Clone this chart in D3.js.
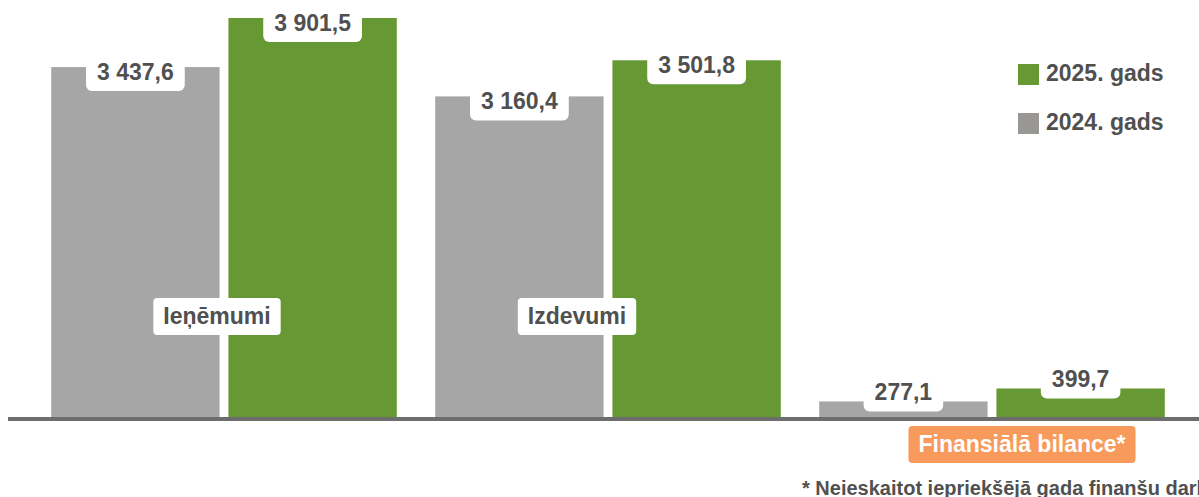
<!DOCTYPE html>
<html>
<head>
  <meta charset="utf-8">
  <title>Ieņēmumi un izdevumi</title>
  <script src="https://d3js.org/d3.v7.min.js"></script>
  <style>
    body { margin: 0; background: #fff; }
    text { font-family: "Liberation Sans", Arial, sans-serif; font-weight: bold; }
  </style>
</head>
<body>
<script>
// data (milj. EUR)
var categories = ["Ieņēmumi", "Izdevumi", "Finansiālā bilance*"];
var years = ["2024. gads", "2025. gads"];
var values2024 = [3437.6, 3160.4, 277.1];
var values2025 = [3901.5, 3501.8, 399.7];
var valueLabels2024 = ["3 437,6", "3 160,4", "277,1"];
var valueLabels2025 = ["3 901,5", "3 501,8", "399,7"];
var footnote = "* Neieskaitot iepriekšējā gada finanšu darbības rezultātu";

var W = 1199, H = 497;
var baseY = 417;
var colors = {"2024. gads": "#a6a6a6", "2025. gads": "#669933"};
var legendColors = {"2024. gads": "#999794", "2025. gads": "#669933"};
var textColor = "#505050";
// nudges for the category labels relative to the group centre
var catLabelDx = [-7, -31, 30];

var svg = d3.select("body").append("svg")
    .attr("width", W)
    .attr("height", H);

var x0 = d3.scaleBand()
    .domain(categories)
    .range([32, 1184])
    .paddingInner(0.1)
    .paddingOuter(0.05);

var x1 = d3.scaleBand()
    .domain(years)
    .range([0, x0.bandwidth()])
    .paddingInner(0.05);

var y = d3.scaleLinear()
    .domain([130, 3901.5])
    .range([baseY, 18]);

var rows = [];
categories.forEach(function (c, i) {
  rows.push({cat: c, year: years[0], v: values2024[i], label: valueLabels2024[i]});
  rows.push({cat: c, year: years[1], v: values2025[i], label: valueLabels2025[i]});
});

svg.selectAll("rect.bar")
    .data(rows)
    .enter()
    .append("rect")
    .attr("class", "bar")
    .attr("x", function (d) { return x0(d.cat) + x1(d.year); })
    .attr("y", function (d) { return y(d.v); })
    .attr("width", x1.bandwidth())
    .attr("height", function (d) { return baseY - y(d.v); })
    .style("fill", function (d) { return colors[d.year]; });

// axis line
svg.append("rect")
    .attr("x", 8)
    .attr("y", baseY)
    .attr("width", W - 8)
    .attr("height", 4)
    .style("fill", "#6d6d6d");

// value labels in white tabs
var vl = svg.selectAll("g.vlabel")
    .data(rows)
    .enter()
    .append("g")
    .attr("class", "vlabel")
    .attr("transform", function (d) {
      var cx = x0(d.cat) + x1(d.year) + x1.bandwidth() / 2;
      var small = (baseY - y(d.v)) < 40;
      var by = small ? y(d.v) - 1 : y(d.v) + 13;
      return "translate(" + cx + "," + by + ")";
    });

vl.append("text")
    .attr("text-anchor", "middle")
    .style("font-size", "23px")
    .style("fill", textColor)
    .text(function (d) { return d.label; });

vl.insert("rect", "text")
    .attr("x", function () {
      return -this.parentNode.querySelector("text").getComputedTextLength() / 2 - 11;
    })
    .attr("y", -30)
    .attr("width", function () {
      return this.parentNode.querySelector("text").getComputedTextLength() + 22;
    })
    .attr("height", 41)
    .attr("rx", 6)
    .style("fill", "#fff");

// category labels
var cl = svg.selectAll("g.clabel")
    .data(categories)
    .enter()
    .append("g")
    .attr("class", "clabel")
    .attr("transform", function (d, i) {
      var cx = x0(d) + x0.bandwidth() / 2 + catLabelDx[i];
      var cy = i < 2 ? 316 : 444;
      return "translate(" + cx + "," + cy + ")";
    });

cl.append("text")
    .attr("text-anchor", "middle")
    .attr("dy", "0.36em")
    .style("font-size", "23px")
    .style("fill", function (d, i) { return i < 2 ? textColor : "#fff"; })
    .text(function (d) { return d; });

cl.insert("rect", "text")
    .attr("x", function () {
      return -this.parentNode.querySelector("text").getComputedTextLength() / 2 - 10;
    })
    .attr("y", -18)
    .attr("width", function () {
      return this.parentNode.querySelector("text").getComputedTextLength() + 20;
    })
    .attr("height", 37)
    .attr("rx", 4)
    .style("fill", function (d, i) { return i < 2 ? "#fff" : "#f79a5b"; });

// legend
var legendOrder = [years[1], years[0]];
var lg = svg.selectAll("g.legend")
    .data(legendOrder)
    .enter()
    .append("g")
    .attr("class", "legend")
    .attr("transform", function (d, i) { return "translate(1018," + (64 + i * 49) + ")"; });

lg.append("rect")
    .attr("width", 21)
    .attr("height", 21)
    .style("fill", function (d) { return legendColors[d]; });

lg.append("text")
    .attr("x", 28)
    .attr("y", 17)
    .style("font-size", "23px")
    .style("fill", textColor)
    .text(function (d) { return d; });

// footnote (runs past the right edge, as in the original)
svg.append("text")
    .attr("x", 802)
    .attr("y", 495)
    .style("font-size", "20px")
    .style("fill", textColor)
    .text(footnote);
</script>
</body>
</html>
